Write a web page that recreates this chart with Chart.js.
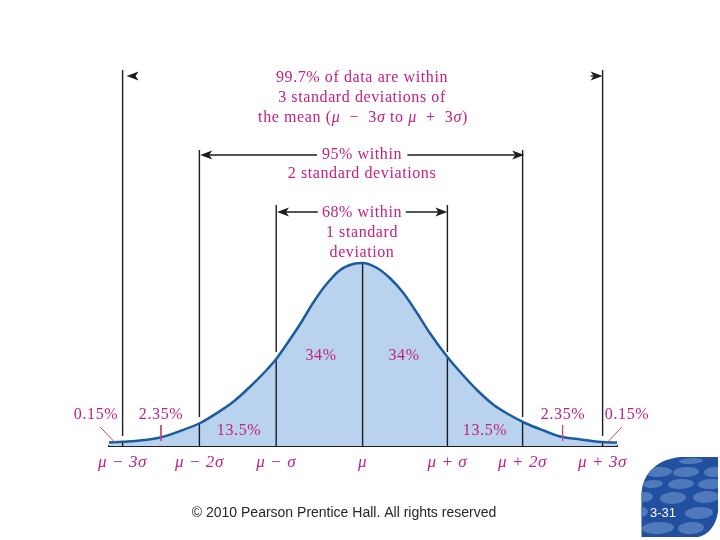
<!DOCTYPE html>
<html>
<head>
<meta charset="utf-8">
<title>Empirical rule</title>
<script src="https://cdn.jsdelivr.net/npm/chart.js@4"></script>
<style>
  html, body { margin: 0; padding: 0; background: #fff; }
  canvas { display: block; }
</style>
</head>
<body>
<canvas id="chart" width="720" height="540"></canvas>
<script>
/* ---- Data ---- */
// curve: x in sigma, y in height units (1 unit = 1 px above the baseline)
const curveX = [-3.17, -2.99, -2.78, -2.53, -2.28, -2.03, -1.82, -1.62, -1.41, -1.20, -1.07, -0.93, -0.78, -0.62, -0.47, -0.28, -0.12, 0, 0.18, 0.34, 0.51, 0.68, 0.84, 1.06, 1.22, 1.43, 1.64, 1.84, 2.03, 2.28, 2.47, 2.72, 2.99, 3.18];
const curveHeight = [3.5, 4.3, 5.5, 8.5, 15, 23, 33, 44, 59, 76, 88, 104, 122, 143, 160, 176, 182, 183, 178, 168, 153, 133, 113, 89, 74, 56, 41, 31, 23, 15, 9.5, 6.5, 4, 3.5];

// vertical guides, one per tick
const guideX = [-3, -2.04, -1.08, 0, 1.06, 2.0, 3];
const guideTop = [376, 296, 241, 183, 241, 296, 376];
const guideGapEnd = [10, 29, 94, 183, 94, 29, 10];
const guideCurve = [4, 23, 87, 183, 89, 23, 4];
const tickLabels = ['μ − 3σ', 'μ − 2σ', 'μ − σ', 'μ', 'μ + σ', 'μ + 2σ', 'μ + 3σ'];

// arrows: tip x, tail x, height
const arrowTip = [-2.95, 3.0, -2.03, 2.02, -1.07, 1.06];
const arrowTail = [-2.84, 2.85, -0.57, 0.56, -0.56, 0.54];
const arrowHeight = [370, 370, 291, 291, 234, 234];

// pink pointers to the tail areas
const pointerX1 = [-2.52, 2.5, -3.28, 3.24];
const pointerX2 = [-2.52, 2.5, -3.09, 3.04];
const pointerY1 = [21, 21, 19, 19];
const pointerY2 = [5, 5, 3, 2];

const PINK = '#c4207f';
const INK = '#1d1d22';
const SERIF = "'Liberation Serif', 'DejaVu Serif', serif";

/* ---- Datasets ---- */
const segment = (x1, y1, x2, y2, color, width) => ({
  data: [{ x: x1, y: y1 }, { x: x2, y: y2 }],
  showLine: true,
  borderColor: color,
  borderWidth: width,
  pointRadius: 0,
  clip: false,
  order: 2,
});

const curvePoints = curveX.map((x, i) => ({ x, y: curveHeight[i] }));
const curveBase = {
  data: curvePoints,
  showLine: true,
  pointRadius: 0,
  cubicInterpolationMode: 'monotone',
  clip: false,
};

// fill sits under the guides, the outline on top of them
const datasets = [
  { ...curveBase, label: 'Normal curve', fill: false, borderColor: '#1b5c9e', borderWidth: 2.5, order: 1 },
  { ...curveBase, label: 'Area', fill: 'origin', backgroundColor: '#b9d3ef', borderWidth: 0, order: 5 },
];

guideX.forEach((x, i) => {
  datasets.push(segment(x, 0, x, guideCurve[i], INK, 1.4));
  if (guideTop[i] > guideGapEnd[i]) datasets.push(segment(x, guideGapEnd[i], x, guideTop[i], INK, 1.4));
});
pointerX1.forEach((x, i) => {
  datasets.push({ ...segment(x, pointerY1[i], pointerX2[i], pointerY2[i], '#c9457f', 1), order: 0 });
});

/* ---- Text and decoration ---- */
const textRows = [
  ['99.7% of data are within', 362, 78], ['3 standard deviations of', 362, 98], ['the mean (μ  −  3σ to μ  +  3σ)', 363, 118],
  ['95% within', 362, 155], ['2 standard deviations', 362, 174],
  ['68% within', 362, 213], ['1 standard', 362, 233], ['deviation', 362, 253],
  ['34%', 321, 356], ['34%', 404, 356],
  ['13.5%', 239, 431], ['13.5%', 485, 431],
  ['2.35%', 161, 415], ['2.35%', 563, 415],
  ['0.15%', 96, 415], ['0.15%', 627, 415],
];

const badgeSpots = [
  [691, 461, 12, 3], [659, 472, 13, 5], [686, 472, 13, 5], [714, 472, 10, 5], [653, 484, 10, 4], [681, 484, 13, 5], [711, 484, 13, 5],
  [644, 497, 9, 5], [673, 498, 13, 6], [706, 497, 13, 6], [641, 512, 7, 5], [699, 513, 14, 6], [658, 528, 16, 6], [691, 528, 13, 6],
];

function drawMixedText(ctx, text, cx, cy) {
  const runs = text.split(/([μσ])/).filter(Boolean);
  const fontFor = r => (r === 'μ' || r === 'σ' ? 'italic ' : '') + '16px ' + SERIF;
  let width = 0;
  runs.forEach(r => { ctx.font = fontFor(r); width += ctx.measureText(r).width; });
  let x = cx - width / 2;
  runs.forEach(r => {
    ctx.font = fontFor(r);
    ctx.fillText(r, x, cy);
    x += ctx.measureText(r).width;
  });
}

function drawArrow(ctx, tipX, tailX, y) {
  const dir = tailX > tipX ? 1 : -1;
  ctx.strokeStyle = INK;
  ctx.fillStyle = INK;
  ctx.lineWidth = 1.3;
  ctx.beginPath();
  ctx.moveTo(tipX + dir * 4, y);
  ctx.lineTo(tailX, y);
  ctx.stroke();
  ctx.beginPath();
  ctx.moveTo(tipX, y);
  ctx.lineTo(tipX + dir * 12, y - 4.5);
  ctx.lineTo(tipX + dir * 9, y);
  ctx.lineTo(tipX + dir * 12, y + 4.5);
  ctx.closePath();
  ctx.fill();
}

function drawBadge(ctx) {
  ctx.save();
  ctx.beginPath();
  ctx.moveTo(641.5, 537);
  ctx.lineTo(641.5, 494);
  ctx.bezierCurveTo(642, 472, 660, 458, 682, 457);
  ctx.lineTo(718, 457);
  ctx.lineTo(718, 512);
  ctx.bezierCurveTo(716, 526, 708, 535, 698, 537);
  ctx.closePath();
  ctx.fillStyle = '#20509f';
  ctx.fill();
  ctx.clip();
  ctx.fillStyle = '#5079bb';
  badgeSpots.forEach(e => {
    ctx.beginPath();
    ctx.ellipse(e[0], e[1], e[2], e[3], -0.05, 0, Math.PI * 2);
    ctx.fill();
  });
  ctx.restore();
}

const overlayPlugin = {
  id: 'overlay',
  beforeDraw(chart) {
    // wider tracking for the serif labels, ticks included
    chart.ctx.letterSpacing = '0.6px';
  },
  afterDraw(chart) {
    const { ctx, scales: { x, y } } = chart;
    ctx.save();
    arrowTip.forEach((tip, i) => {
      drawArrow(ctx, x.getPixelForValue(tip), x.getPixelForValue(arrowTail[i]), y.getPixelForValue(arrowHeight[i]));
    });
    ctx.textBaseline = 'middle';
    ctx.textAlign = 'left';
    ctx.fillStyle = PINK;
    textRows.forEach(r => drawMixedText(ctx, r[0], r[1], r[2]));
    drawBadge(ctx);
    ctx.letterSpacing = '0px';
    ctx.textAlign = 'center';
    ctx.fillStyle = '#26262a';
    ctx.font = "14px 'Liberation Sans', Arial, sans-serif";
    ctx.fillText('© 2010 Pearson Prentice Hall. All rights reserved', 344, 513);
    ctx.fillStyle = '#ffffff';
    ctx.font = "13px 'Liberation Sans', Arial, sans-serif";
    ctx.fillText('3-31', 663, 513);
    ctx.restore();
  },
};

/* ---- Chart ---- */
new Chart(document.getElementById('chart'), {
  type: 'scatter',
  data: { datasets },
  plugins: [overlayPlugin],
  options: {
    responsive: false,
    animation: false,
    layout: { autoPadding: false, padding: { left: 109, right: 103, top: 70, bottom: 0 } },
    plugins: { legend: { display: false }, tooltip: { enabled: false } },
    scales: {
      x: {
        type: 'linear',
        min: -3.17,
        max: 3.18,
        afterBuildTicks: scale => { scale.ticks = guideX.map(value => ({ value })); },
        afterFit: scale => { scale.height = 94; },
        grid: { display: false, drawTicks: false },
        border: { color: INK, width: 2 },
        ticks: {
          autoSkip: false,
          maxRotation: 0,
          padding: 6,
          color: PINK,
          font: { family: SERIF, size: 17, style: 'italic' },
          callback: (value, i) => tickLabels[i],
        },
      },
      y: { display: false, min: 0, max: 376 },
    },
  },
});
</script>
</body>
</html>
